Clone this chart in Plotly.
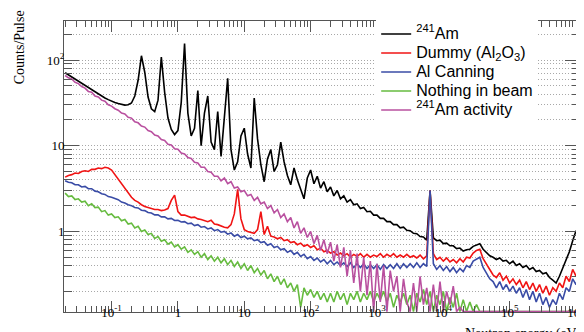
import numpy as np
import plotly.graph_objects as go

# ---- histogram binning (log10 of neutron energy in eV, bin centres) ----
log_energy = np.round(np.arange(-1.70, 6.0501, 0.05), 2)
energy = 10 ** log_energy

# ---- series values (Counts/Pulse) ----
am241 = [
    71, 67, 63, 59.5, 56, 53, 50, 47.5, 45, 42.5,
    40, 38, 36, 34.5, 33, 32, 31, 30.2, 29.8, 30,
    31.5, 38, 58, 112, 72, 37, 27, 25, 34, 108,
    42, 21, 15.5, 13.5, 15, 32, 156, 24, 13, 16,
    44, 10, 24, 38, 11, 9, 25, 7.5, 21, 61,
    9, 5.2, 6.5, 13, 16, 8, 5.5, 36, 12, 6,
    3.8, 7, 9, 5, 6, 11, 6.5, 4.5, 3.5, 5.5,
    4, 3, 2.4, 4.2, 5.2, 3.6, 4.4, 3.2, 3.8, 2.9,
    3.3, 2.6, 3.0, 2.4, 2.6, 2.2, 2.35, 2.05, 2.1, 1.85,
    1.9, 1.7, 1.72, 1.55, 1.55, 1.42, 1.42, 1.3, 1.3, 1.2,
    1.2, 1.1, 1.12, 1.03, 1.02, 0.95, 0.94, 0.87, 0.86, 0.79,
    3.0, 0.84, 0.78, 0.79, 0.72, 0.73, 0.68, 0.68, 0.63, 0.64,
    0.59, 0.61, 0.62, 0.67, 0.70, 0.72, 0.62, 0.57, 0.52, 0.50,
    0.47, 0.49, 0.45, 0.46, 0.42, 0.45, 0.40, 0.42, 0.38, 0.40,
    0.36, 0.38, 0.34, 0.35, 0.32, 0.33, 0.29, 0.27, 0.25, 0.30,
    0.37, 0.46, 0.58, 0.78, 1.02, 0.85,
]
dummy = [
    4.3, 4.5, 4.6, 4.8, 4.75, 5.0, 5.1, 5.0, 5.3, 5.3,
    5.5, 5.4, 5.6, 5.5, 5.2, 4.6, 4.0, 3.6, 3.2, 2.8,
    2.5, 2.3, 2.2, 2.05, 1.95, 1.9, 1.85, 1.8, 1.8, 1.75,
    1.78, 1.85, 2.3, 2.65, 1.7, 1.55, 1.55, 1.5, 1.45, 1.47,
    1.4, 1.38, 1.33, 1.3, 1.35, 1.22, 1.2, 1.15, 1.12, 1.1,
    1.2, 1.6, 3.1, 1.4, 1.05, 1.0, 0.98, 0.95, 1.05, 1.7,
    0.92, 1.15, 0.88, 0.86, 0.82, 0.85, 0.78, 0.8, 0.74, 0.76,
    0.7, 0.73, 0.67, 0.7, 0.65, 0.68, 0.61, 0.64, 0.58, 0.6,
    0.56, 0.58, 0.53, 0.56, 0.52, 0.55, 0.5, 0.54, 0.51, 0.55,
    0.5, 0.54, 0.5, 0.53, 0.51, 0.55, 0.5, 0.54, 0.51, 0.55,
    0.5, 0.53, 0.5, 0.54, 0.5, 0.52, 0.49, 0.53, 0.48, 0.52,
    3.0, 0.55, 0.47, 0.5, 0.45, 0.49, 0.44, 0.47, 0.43, 0.48,
    0.44, 0.5, 0.49, 0.56, 0.6, 0.62, 0.48, 0.42, 0.36, 0.31,
    0.29, 0.33, 0.27, 0.3, 0.25, 0.28, 0.24, 0.27, 0.22, 0.26,
    0.21, 0.25, 0.2, 0.24, 0.19, 0.23, 0.18, 0.22, 0.2, 0.25,
    0.22, 0.3, 0.26, 0.36, 0.3, 0.5,
]
al_canning = [
    3.9, 3.75, 3.7, 3.5, 3.5, 3.3, 3.35, 3.15, 3.15, 2.95,
    2.9, 2.75, 2.7, 2.55, 2.5, 2.4, 2.35, 2.2, 2.15, 2.05,
    2.0, 1.9, 1.88, 1.77, 1.75, 1.66, 1.64, 1.56, 1.56, 1.48,
    1.48, 1.4, 1.42, 1.34, 1.35, 1.29, 1.3, 1.23, 1.25, 1.17,
    1.2, 1.12, 1.14, 1.07, 1.1, 1.02, 1.05, 0.98, 1.0, 0.93,
    0.96, 0.88, 0.92, 0.85, 0.88, 0.82, 0.84, 0.78, 0.8, 0.74,
    0.76, 0.69, 0.72, 0.65, 0.67, 0.61, 0.63, 0.57, 0.6, 0.54,
    0.57, 0.51, 0.54, 0.48, 0.51, 0.46, 0.49, 0.44, 0.47, 0.42,
    0.46, 0.41, 0.44, 0.4, 0.43, 0.39, 0.43, 0.38, 0.42, 0.38,
    0.42, 0.37, 0.41, 0.37, 0.41, 0.36, 0.41, 0.37, 0.41, 0.37,
    0.42, 0.37, 0.42, 0.38, 0.42, 0.38, 0.43, 0.38, 0.42, 0.39,
    3.0, 0.42, 0.36, 0.4, 0.35, 0.39, 0.34, 0.38, 0.33, 0.37,
    0.34, 0.4, 0.38, 0.45, 0.47, 0.5, 0.38, 0.33, 0.28, 0.26,
    0.22, 0.26, 0.21, 0.24, 0.2, 0.23, 0.19, 0.22, 0.17, 0.21,
    0.16, 0.2, 0.15, 0.19, 0.14, 0.17, 0.13, 0.16, 0.14, 0.19,
    0.16, 0.22, 0.2, 0.28, 0.24, 0.31,
]
nothing_in_beam = [
    2.8, 2.55, 2.6, 2.35, 2.4, 2.2, 2.25, 2.0, 2.1, 1.9,
    1.92, 1.7, 1.75, 1.55, 1.6, 1.45, 1.48, 1.33, 1.38, 1.22,
    1.25, 1.1, 1.15, 1.0, 1.04, 0.92, 0.95, 0.83, 0.87, 0.77,
    0.8, 0.71, 0.75, 0.66, 0.7, 0.62, 0.66, 0.57, 0.61, 0.54,
    0.58, 0.5, 0.55, 0.47, 0.52, 0.45, 0.5, 0.43, 0.48, 0.41,
    0.46, 0.39, 0.44, 0.37, 0.42, 0.35, 0.4, 0.33, 0.37, 0.31,
    0.35, 0.28, 0.32, 0.26, 0.3, 0.24, 0.28, 0.22, 0.25, 0.2,
    0.24, 0.13, 0.22, 0.18, 0.21, 0.17, 0.2, 0.16, 0.19, 0.15,
    0.19, 0.15, 0.2, 0.16, 0.19, 0.14, 0.19, 0.16, 0.2, 0.15,
    0.19, 0.16, 0.2, 0.15, 0.19, 0.16, 0.2, 0.15, 0.19, 0.13,
    0.18, 0.15, 0.19, 0.14, 0.18, 0, 0.19, 0.15, 0.21, 0.14,
    0.2, 0, 0.18, 0.14, 0.2, 0, 0.17, 0.13, 0.19, 0,
    0.16, 0, 0.15, 0, 0.14, 0, 0, 0, 0, 0,
    0, 0, 0, 0, 0, 0, 0, 0, 0, 0,
    0, 0, 0, 0, 0, 0, 0, 0, 0, 0,
    0, 0, 0, 0, 0, 0,
]
am241_activity = [
    66, 62, 60, 55, 53, 49, 47, 43, 42, 38,
    37, 34, 33, 30, 29, 27, 26, 24, 23.5, 21.5,
    21, 19, 18.5, 17, 16.5, 15, 14.6, 13.3, 13, 11.8,
    11.5, 10.4, 10.2, 9.2, 9.1, 8.2, 8.0, 7.3, 7.1, 6.4,
    6.3, 5.6, 5.6, 5.0, 4.9, 4.4, 4.4, 3.9, 4.2, 3.6,
    3.8, 3.2, 3.3, 2.9, 3.0, 2.6, 2.7, 2.3, 2.5, 2.1,
    2.2, 1.85, 2.0, 1.65, 1.8, 1.45, 1.6, 1.3, 1.45, 1.1,
    1.3, 0.95, 1.1, 0.85, 1.0, 0.72, 0.9, 0.6, 0.8, 0.55,
    0.75, 0.45, 0.7, 0.38, 0.65, 0.3, 0.6, 0.25, 0.55, 0.2,
    0.5, 0.18, 0.45, 0, 0.42, 0.15, 0.4, 0, 0.35, 0.2,
    0.3, 0, 0.28, 0.15, 0, 0.25, 0, 0.3, 0.14, 0.22,
    0, 0.24, 0, 0.26, 0, 0.2, 0.14, 0.23, 0, 0.13,
    0, 0, 0, 0, 0, 0, 0, 0, 0, 0,
    0, 0, 0, 0, 0, 0, 0, 0, 0, 0,
    0, 0, 0, 0, 0, 0, 0, 0, 0, 0,
    0, 0, 0, 0, 0, 0,
]

series_names = ["<sup>241</sup>Am", "Dummy (Al<sub>2</sub>O<sub>3</sub>)", "Al Canning",
                "Nothing in beam", "<sup>241</sup>Am activity"]
series_values = [am241, dummy, al_canning, nothing_in_beam, am241_activity]
series_colors = ["#000000", "#f01414", "#3a4ca6", "#66bb3f", "#b9509f"]

# ---- tick labels ----
x_tick_vals = [0.1, 1, 10, 100, 1e3, 1e4, 1e5, 1e6]
x_tick_text = ["10<sup>-1</sup>", "1", "10", "10<sup>2</sup>", "10<sup>3</sup>",
               "10<sup>4</sup>", "10<sup>5</sup>", "10<sup>6</sup>"]
y_tick_vals = [1, 10, 100]
y_tick_text = ["1", "10", "10<sup>2</sup>"]

x_range = [-1.717, 6.06]
y_range = [-0.94, 2.455]
y_floor = 10 ** y_range[0] * 1.01

x_minor = [m * 10.0 ** d for d in range(-2, 7) for m in range(2, 10)]
x_minor = [v for v in x_minor if 10 ** x_range[0] <= v <= 10 ** x_range[1]]
y_minor = [m * 10.0 ** d for d in range(-1, 3) for m in range(2, 10)]
y_minor = [v for v in y_minor if 10 ** y_range[0] <= v <= 10 ** y_range[1]]

fig = go.Figure()
for name, vals, col in zip(series_names, series_values, series_colors):
    assert len(vals) == len(energy), (name, len(vals))
    yv = [v if v > 0 else y_floor for v in vals]
    fig.add_trace(go.Scatter(
        x=energy, y=yv, mode="lines", line=dict(color=col, width=1.6),
        name='<span style="font-size:16px">' + name + "</span>"))

serif = "Liberation Serif, Times New Roman, serif"
axis_font = dict(family=serif, size=13, color="black")
frame_col = "#555555"
grid_col = "#a8a8a8"

fig.update_layout(
    width=584, height=332, autosize=False,
    margin=dict(l=56, r=7, t=13, b=28),
    paper_bgcolor="white", plot_bgcolor="white",
    showlegend=True,
    legend=dict(x=0.605, y=1.005, xanchor="left", yanchor="top",
                bgcolor="white", borderwidth=0,
                font=dict(family="Liberation Sans, Arial, sans-serif", size=12, color="black"),
                itemwidth=30, tracegroupgap=0),
    xaxis=dict(type="log", range=x_range, tickmode="array", tickvals=x_tick_vals,
               ticktext=x_tick_text, ticks="inside", ticklen=11, tickcolor=frame_col,
               ticklabelstandoff=-12,
               showline=True, linecolor=frame_col, linewidth=1, mirror="allticks",
               showgrid=False, zeroline=False, tickfont=axis_font,
               minor=dict(tickmode="array", tickvals=x_minor, ticks="inside", ticklen=6,
                          tickcolor=frame_col, showgrid=False)),
    yaxis=dict(type="log", range=y_range, tickmode="array", tickvals=y_tick_vals,
               ticktext=y_tick_text, ticks="inside", ticklen=15, tickcolor=frame_col,
               ticklabelstandoff=-4,
               showline=True, linecolor=frame_col, linewidth=1, mirror="allticks",
               showgrid=True, gridcolor=grid_col, griddash="1px,2px", gridwidth=1,
               zeroline=False, tickfont=axis_font,
               minor=dict(tickmode="array", tickvals=y_minor, ticks="inside", ticklen=8,
                          tickcolor=frame_col, showgrid=True, gridcolor=grid_col,
                          griddash="1px,2px", gridwidth=1)),
    annotations=[
        dict(text="Counts/Pulse", xref="paper", yref="paper", x=-0.087, y=0.91,
             textangle=-90, showarrow=False, xanchor="center", yanchor="middle",
             font=dict(family=serif, size=14, color="black")),
        dict(text="Neutron energy (eV)", xref="paper", yref="paper", x=0.7735, y=-0.075,
             showarrow=False, xanchor="left", yanchor="middle",
             font=dict(family=serif, size=14, color="black")),
    ],
)

fig.write_html("out.html")
